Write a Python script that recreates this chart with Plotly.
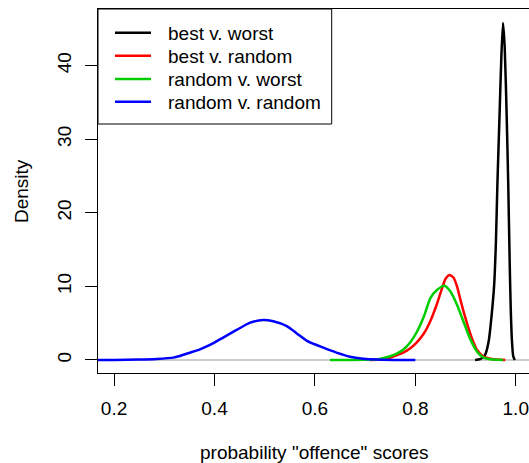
import plotly.graph_objects as go

# Kernel density estimates of probability "offence" scores
series_names = ["best v. worst", "best v. random", "random v. worst", "random v. random"]
series_colors = ["#000000", "#FF0000", "#00CD00", "#0000FF"]

best_worst_x = [0.919, 0.929, 0.939, 0.946, 0.952, 0.957, 0.9605, 0.9635, 0.9676, 0.9715,
                0.9747, 0.978, 0.982, 0.985, 0.988, 0.990, 0.9925, 0.995, 0.998]
best_worst_y = [0.0, 0.1, 0.7, 2.5, 6.1, 10.2, 16.0, 24.0, 33.0, 41.5,
                45.8, 42.5, 33.0, 24.0, 13.0, 7.0, 2.5, 0.5, 0.0]

best_random_x = [0.709, 0.730, 0.750, 0.764, 0.777, 0.790, 0.803, 0.817, 0.830, 0.843, 0.853,
                 0.860, 0.868, 0.876, 0.883, 0.889, 0.896, 0.904, 0.913, 0.923, 0.936, 0.956, 0.979]
best_random_y = [0.00, 0.06, 0.30, 0.68, 1.04, 1.60, 2.40, 3.60, 5.30, 7.60, 9.70,
                 11.00, 11.55, 11.20, 10.00, 8.40, 6.60, 4.75, 2.90, 1.36, 0.45, 0.09, 0.00]

random_worst_x = [0.630, 0.670, 0.696, 0.729, 0.750, 0.764, 0.777, 0.790, 0.803, 0.817, 0.830,
                  0.843, 0.858, 0.870, 0.883, 0.896, 0.909, 0.923, 0.936, 0.956, 0.975]
random_worst_y = [0.00, 0.01, 0.03, 0.14, 0.50, 0.90, 1.45, 2.40, 3.80, 5.90, 8.40,
                  9.50, 10.10, 9.30, 7.50, 5.20, 2.90, 1.13, 0.32, 0.05, 0.00]

random_random_x = [0.160, 0.200, 0.250, 0.285, 0.318, 0.331, 0.351, 0.371, 0.391, 0.418, 0.444,
                   0.471, 0.497, 0.517, 0.544, 0.564, 0.584, 0.617, 0.643, 0.670, 0.696, 0.723,
                   0.760, 0.800]
random_random_y = [0.00, 0.01, 0.05, 0.14, 0.32, 0.54, 0.99, 1.45, 2.04, 3.08, 4.08,
                   5.07, 5.43, 5.25, 4.60, 3.60, 2.60, 1.67, 1.00, 0.45, 0.18, 0.05,
                   0.01, 0.00]

x_ticks = [0.2, 0.4, 0.6, 0.8, 1.0]
x_tick_labels = ["0.2", "0.4", "0.6", "0.8", "1.0"]
y_ticks = [0, 10, 20, 30, 40]
y_tick_labels = ["0", "10", "20", "30", "40"]

x_title = 'probability "offence" scores'
y_title = "Density"

FONT = "Liberation Sans, Arial, Helvetica, sans-serif"
W, H = 529, 463
ML, MR, MT, MB = 98, 0, 9, 90
PW, PH = W - ML - MR, H - MT - MB


def px_x(px):
    return (px - ML) / PW


def px_y(py):
    return (MT + PH - py) / PH


fig = go.Figure()
all_x = [best_worst_x, best_random_x, random_worst_x, random_random_x]
all_y = [best_worst_y, best_random_y, random_worst_y, random_random_y]
for name, color, xs, ys in zip(series_names, series_colors, all_x, all_y):
    fig.add_trace(go.Scatter(
        x=xs, y=ys, mode="lines", name=name,
        line=dict(color=color, width=2.5, shape="spline", smoothing=0.6),
        showlegend=False, hoverinfo="skip",
    ))

# boxed legend in the upper-left corner
shapes = [dict(type="rect", xref="paper", yref="paper",
               x0=px_x(98), x1=px_x(331.7), y0=px_y(124), y1=px_y(9),
               fillcolor="white", line=dict(color="black", width=1), layer="above")]
annotations = []
row_y = [32.7, 55.7, 79.0, 101.7]
for name, color, ry in zip(series_names, series_colors, row_y):
    shapes.append(dict(type="line", xref="paper", yref="paper",
                       x0=px_x(115), x1=px_x(151), y0=px_y(ry), y1=px_y(ry),
                       line=dict(color=color, width=2.5), layer="above"))
    annotations.append(dict(text=name, xref="paper", yref="paper",
                            x=px_x(165.5), y=px_y(ry + 0.5), xanchor="left", yanchor="middle",
                            showarrow=False, font=dict(family=FONT, size=19, color="black")))

# axis titles
annotations.append(dict(text=x_title, xref="x", yref="paper", x=0.6, y=px_y(452),
                        xanchor="center", yanchor="middle", showarrow=False,
                        font=dict(family=FONT, size=19, color="black")))
annotations.append(dict(text=y_title, xref="paper", yref="paper", x=px_x(21), y=0.5,
                        xanchor="center", yanchor="middle", textangle=-90, showarrow=False,
                        font=dict(family=FONT, size=19, color="black")))

fig.update_layout(
    width=W, height=H, autosize=False,
    margin=dict(l=ML, r=MR, t=MT, b=MB, pad=0),
    paper_bgcolor="white", plot_bgcolor="white",
    font=dict(family=FONT, size=19, color="black"),
    shapes=shapes, annotations=annotations,
    showlegend=False,
)
fig.update_xaxes(
    range=[0.168, 0.168 + PW / 502.1],
    tickvals=x_ticks, ticktext=x_tick_labels,
    ticks="outside", ticklen=12, tickwidth=1, tickcolor="black",
    showline=True, linecolor="black", linewidth=1, mirror=True,
    showgrid=False, zeroline=False,
    tickfont=dict(family=FONT, size=19, color="black"),
    ticklabelstandoff=6,
)
fig.update_yaxes(
    range=[-1.77, 47.69],
    tickvals=y_ticks, ticktext=y_tick_labels, tickangle=-90,
    ticks="outside", ticklen=12, tickwidth=1, tickcolor="black",
    showline=True, linecolor="black", linewidth=1, mirror=False,
    showgrid=False, zeroline=True, zerolinecolor="#cccccc", zerolinewidth=1.5,
    tickfont=dict(family=FONT, size=19, color="black"),
    ticklabelstandoff=6,
)

fig.write_html("out.html")
